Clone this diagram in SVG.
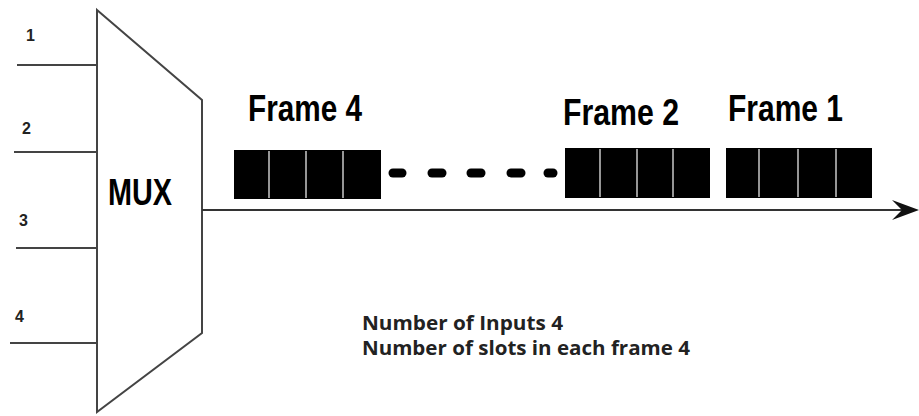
<svg xmlns="http://www.w3.org/2000/svg" width="919" height="416" viewBox="0 0 919 416">
  <defs>
    <style>
      .wire { stroke: #444; stroke-width: 2; fill: none; }
      .num { font-family: "Liberation Sans", Arial, sans-serif; font-weight: bold; font-size: 16px; fill: #222; }
      .title { font-family: "Liberation Sans", Arial, sans-serif; font-weight: bold; font-size: 37px; fill: #000; }
      .note { font-family: "Open Sans", "Liberation Sans", sans-serif; font-weight: bold; font-size: 20px; fill: #222; }
      .slot { fill: #000; }
      .div { stroke: #c8c8c8; stroke-width: 1.5; }
      .dash { stroke: #000; stroke-width: 9; stroke-linecap: round; }
    </style>
  </defs>

  <rect width="919" height="416" fill="#fff"/>

  <!-- multiplexer body -->
  <g id="mux">
    <polygon points="97,10 202,100 202,333 97,412" fill="#fff" stroke="#444" stroke-width="2"/>
    <text class="title" x="108" y="205" font-size="34" textLength="64" lengthAdjust="spacingAndGlyphs">MUX</text>
  </g>

  <!-- inputs -->
  <g id="input-1">
    <line class="wire" x1="17" y1="65" x2="97" y2="65"/>
    <text class="num" x="26" y="41">1</text>
  </g>
  <g id="input-2">
    <line class="wire" x1="14" y1="152" x2="97" y2="152"/>
    <text class="num" x="22" y="134">2</text>
  </g>
  <g id="input-3">
    <line class="wire" x1="16" y1="248" x2="97" y2="248"/>
    <text class="num" x="19" y="226">3</text>
  </g>
  <g id="input-4">
    <line class="wire" x1="10" y1="343" x2="97" y2="343"/>
    <text class="num" x="15" y="322">4</text>
  </g>

  <!-- output line -->
  <g id="connectors">
    <line x1="202" y1="210" x2="906" y2="210" stroke="#333" stroke-width="2"/>
    <path d="M919,210 L892,200 L902,210 L892,220 Z" fill="#111"/>
  </g>

  <!-- frame 4 -->
  <g id="frame-4">
    <text class="title" x="248" y="121" textLength="114" lengthAdjust="spacingAndGlyphs">Frame 4</text>
    <rect class="slot" x="234" y="150" width="147" height="49"/>
    <line class="div" x1="269" y1="151" x2="269" y2="198"/>
    <line class="div" x1="306" y1="151" x2="306" y2="198"/>
    <line class="div" x1="343" y1="151" x2="343" y2="198"/>
  </g>

  <!-- gap between frames -->
  <g id="ellipsis">
    <line class="dash" x1="393" y1="173" x2="402" y2="173"/>
    <line class="dash" x1="432" y1="173" x2="442" y2="173"/>
    <line class="dash" x1="471" y1="173" x2="481" y2="173"/>
    <line class="dash" x1="511" y1="173" x2="521" y2="173"/>
    <line class="dash" x1="548" y1="173" x2="553" y2="173"/>
  </g>

  <!-- frame 2 -->
  <g id="frame-2">
    <text class="title" x="563" y="125" textLength="116" lengthAdjust="spacingAndGlyphs">Frame 2</text>
    <rect class="slot" x="565" y="148" width="145" height="50"/>
    <line class="div" x1="600" y1="149" x2="600" y2="197"/>
    <line class="div" x1="637" y1="149" x2="637" y2="197"/>
    <line class="div" x1="673" y1="149" x2="673" y2="197"/>
  </g>

  <!-- frame 1 -->
  <g id="frame-1">
    <text class="title" x="728" y="121" textLength="115" lengthAdjust="spacingAndGlyphs">Frame 1</text>
    <rect class="slot" x="726" y="148" width="146" height="50"/>
    <line class="div" x1="759" y1="149" x2="759" y2="197"/>
    <line class="div" x1="798" y1="149" x2="798" y2="197"/>
    <line class="div" x1="836" y1="149" x2="836" y2="197"/>
  </g>

  <!-- notes -->
  <g id="notes">
    <text class="note" x="362" y="330" textLength="201" lengthAdjust="spacingAndGlyphs">Number of Inputs 4</text>
    <text class="note" x="362" y="355" textLength="328" lengthAdjust="spacingAndGlyphs">Number of slots in each frame 4</text>
  </g>
</svg>
